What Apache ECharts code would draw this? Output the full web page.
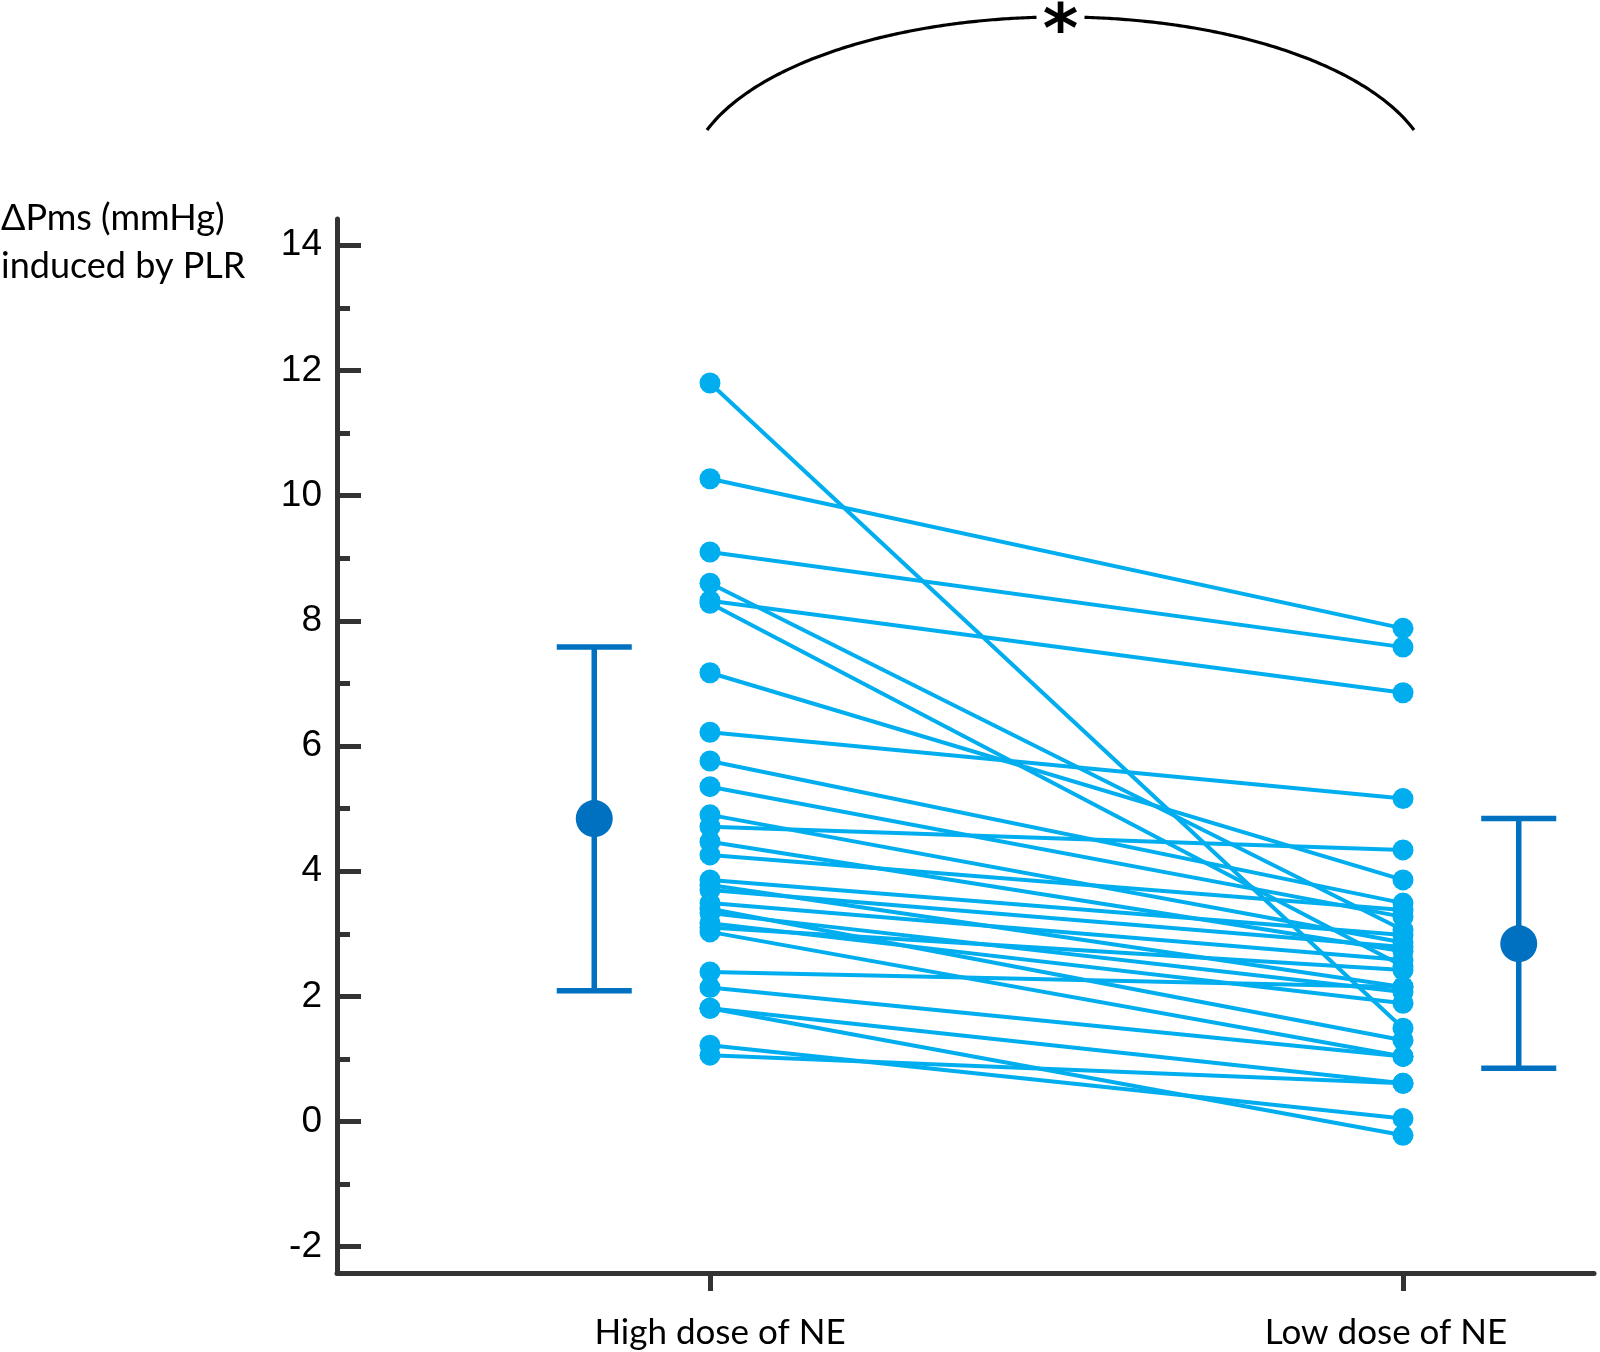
<!DOCTYPE html>
<html><head><meta charset="utf-8">
<script src="https://cdn.jsdelivr.net/npm/echarts@6/dist/echarts.min.js"></script>
<style>html,body{margin:0;padding:0;background:#fff}#main{width:1600px;height:1352px}</style>
</head><body><div id="main"></div>
<script>
// ---- data ----
const groups = ['High dose of NE', 'Low dose of NE'];
const highDose = [11.80, 10.27, 9.10, 8.60, 8.32, 8.28, 7.17, 6.22, 5.76, 5.35, 4.90, 4.71, 4.47, 4.26,
                  3.86, 3.78, 3.70, 3.49, 3.40, 3.33, 3.17, 3.10, 3.03, 2.39, 2.14, 1.81, 1.81, 1.22, 1.06];
const lowDose  = [1.49, 7.88, 7.58, 3.06, 6.85, 2.48, 3.86, 5.16, 3.49, 3.27, 2.86, 4.34, 2.72, 3.38,
                  2.98, 2.15, 2.79, 2.58, 1.30, 2.07, 1.89, 2.42, 1.04, 2.15, 1.04, -0.22, 0.61, 0.05, 0.61];
const meanValues = [4.84, 2.84];
const errLower = [2.09, 0.85];
const errUpper = [7.58, 4.84];
const yMajorTicks = [-2, 0, 2, 4, 6, 8, 10, 12, 14];
const yMinorTicks = [-1, 1, 3, 5, 7, 9, 11, 13];
const yAxisTitle = ['ΔPms (mmHg)', 'induced by PLR'];
const significance = '*';

// ---- layout / style ----
const LIGHT = '#00AEEF', DARK = '#0070C0', AXIS = '#333333';
const TEXT_FONT = 'Lato, "Open Sans", sans-serif';
const groupPos = [1, 2];
const meanOffset = 0.167;
const chart = echarts.init(document.getElementById('main'));

const pairSeries = highDose.map((h, i) => ({
  type: 'line',
  data: [[groupPos[0], h], [groupPos[1], lowDose[i]]],
  symbol: 'circle', symbolSize: 21, showSymbol: true,
  itemStyle: { color: LIGHT, opacity: 1 },
  lineStyle: { color: LIGHT, width: 4 },
  silent: true, z: 3
}));

const meanX = [groupPos[0] - meanOffset, groupPos[1] + meanOffset];
const errData = meanValues.map((m, i) => [meanX[i], m, errLower[i], errUpper[i]]);

const option = {
  animation: false,
  backgroundColor: '#fff',
  grid: { left: 337, right: 6, top: 219, bottom: 79, containLabel: false },
  xAxis: {
    type: 'value', min: 0.4618, max: 2.2756,
    axisLine: { show: true, onZero: false, lineStyle: { color: AXIS, width: 5 } },
    axisTick: { show: true, inside: false, length: 18, customValues: groupPos, lineStyle: { color: AXIS, width: 5 } },
    axisLabel: {
      show: true, customValues: groupPos, margin: 42,
      formatter: v => v === groupPos[0] ? '{a|' + groups[0] + '}' : '{b|' + groups[1] + '}',
      rich: {
        a: { fontSize: 35, fontFamily: TEXT_FONT, color: '#000', padding: [0, 0, 0, 20] },
        b: { fontSize: 35, fontFamily: TEXT_FONT, color: '#000', padding: [0, 34, 0, 0] }
      }
    },
    splitLine: { show: false }
  },
  yAxis: [{
    type: 'value', min: -2.42, max: 14.42,
    axisLine: { show: true, onZero: false, lineStyle: { color: AXIS, width: 5 } },
    axisTick: { show: true, inside: true, length: 24, customValues: yMajorTicks, lineStyle: { color: AXIS, width: 5 } },
    axisLabel: { show: true, customValues: yMajorTicks, margin: 15, fontSize: 37, fontFamily: '"Liberation Sans", Arial, sans-serif', color: '#000' },
    splitLine: { show: false }
  }, {
    type: 'value', min: -2.42, max: 14.42, position: 'left', offset: 0,
    axisLine: { show: false, onZero: false },
    axisTick: { show: true, inside: true, length: 13, customValues: yMinorTicks, lineStyle: { color: AXIS, width: 5 } },
    axisLabel: { show: false },
    splitLine: { show: false }
  }],
  series: pairSeries.concat([
    {
      type: 'custom',
      data: errData,
      renderItem: function (params, api) {
        const x = api.value(0);
        const lo = api.coord([x, api.value(2)]);
        const hi = api.coord([x, api.value(3)]);
        const hw = 37.5;
        const style = { stroke: DARK, lineWidth: 5.5 };
        return { type: 'group', children: [
          { type: 'line', shape: { x1: lo[0], y1: lo[1], x2: hi[0], y2: hi[1] }, style: style },
          { type: 'line', shape: { x1: lo[0] - hw, y1: lo[1], x2: lo[0] + hw, y2: lo[1] }, style: style },
          { type: 'line', shape: { x1: hi[0] - hw, y1: hi[1], x2: hi[0] + hw, y2: hi[1] }, style: style }
        ]};
      },
      silent: true, z: 4
    },
    {
      type: 'scatter',
      data: meanValues.map((m, i) => [meanX[i], m]),
      symbol: 'circle', symbolSize: 37,
      itemStyle: { color: DARK, opacity: 1 },
      silent: true, z: 5
    }
  ])
};
chart.setOption(option);

// ---- annotation: significance bracket & y-axis title ----
const p1 = chart.convertToPixel({ xAxisIndex: 0 }, groupPos[0]);
const p2 = chart.convertToPixel({ xAxisIndex: 0 }, groupPos[1]);
const cx = (p1 + p2) / 2 + 4;
const halfW = (p2 - p1) / 2 + 7;
const topY = 17, endY = 130, ry = 165;
const cy = topY + ry;
const sinEnd = (cy - endY) / ry;
const rx = halfW / Math.sqrt(1 - sinEnd * sinEnd);
const gapHalf = 24;
function arcPoints(fromX, toX) {
  const pts = [];
  const n = 120;
  for (let k = 0; k <= n; k++) {
    const x = fromX + (toX - fromX) * k / n;
    const dx = (x - cx) / rx;
    const y = cy - ry * Math.sqrt(Math.max(0, 1 - dx * dx));
    pts.push([x, y]);
  }
  return pts;
}
chart.setOption({
  graphic: [
    { type: 'polyline', shape: { points: arcPoints(cx - halfW, cx - gapHalf) }, style: { stroke: '#000', lineWidth: 3.2, fill: null }, silent: true },
    { type: 'polyline', shape: { points: arcPoints(cx + gapHalf, cx + halfW) }, style: { stroke: '#000', lineWidth: 3.2, fill: null }, silent: true },
    { type: 'text', x: cx, y: 34, style: { text: significance, fontSize: 68, fontWeight: 'bold', fontFamily: '"DejaVu Sans", sans-serif', fill: '#000', align: 'center', verticalAlign: 'middle' }, silent: true },
    { type: 'text', x: 1, y: 194, style: { text: yAxisTitle.join('\n'), fontSize: 36, lineHeight: 48, fontFamily: TEXT_FONT, fill: '#000', align: 'left', verticalAlign: 'top' }, silent: true }
  ]
});
</script>
</body></html>
